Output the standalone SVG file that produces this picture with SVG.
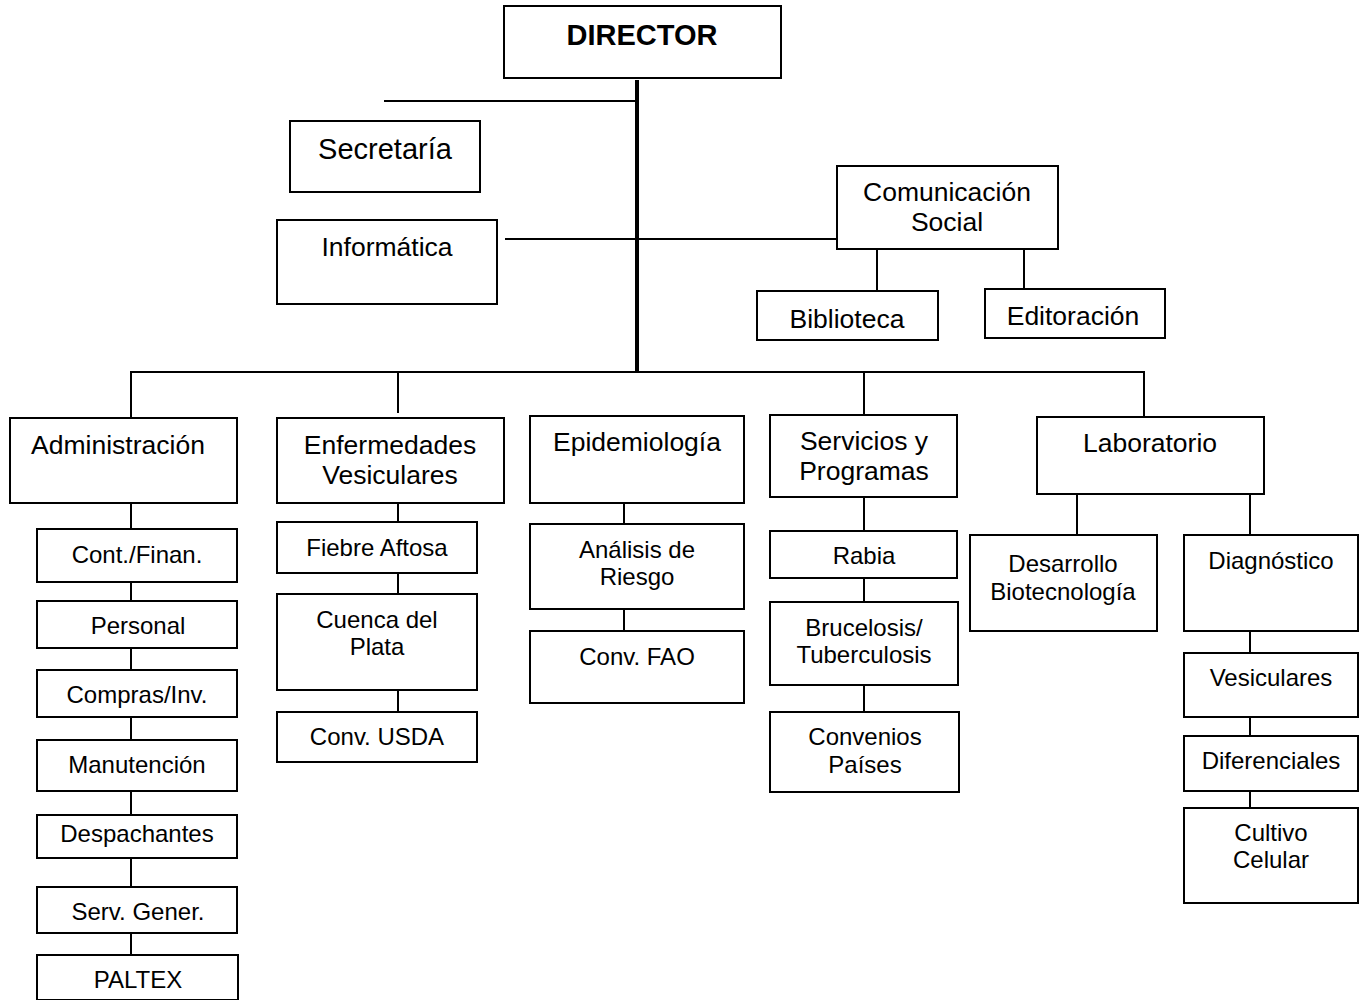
<svg xmlns="http://www.w3.org/2000/svg" width="1364" height="1000" viewBox="0 0 1364 1000">
<style>
rect{fill:#fff;stroke:#000;stroke-width:2}
text{font-family:"Liberation Sans",Arial,sans-serif;fill:#000;text-anchor:middle}
.l{font-size:26.5px}
.s{font-size:24px}
.c line{stroke:#000;stroke-width:2}
</style>
<rect x="0" y="0" width="1364" height="1000" style="fill:#fff;stroke:none"/>
<g class="c" id="connectors">
<line x1="637" y1="80" x2="637" y2="373" style="stroke-width:4"/>
<line x1="384" y1="101" x2="637" y2="101"/>
<line x1="505" y1="239" x2="837" y2="239"/>
<line x1="877" y1="249" x2="877" y2="291"/>
<line x1="1024" y1="249" x2="1024" y2="289"/>
<line x1="130" y1="372" x2="1145" y2="372"/>
<line x1="131" y1="372" x2="131" y2="418"/>
<line x1="398" y1="373" x2="398" y2="413"/>
<line x1="864" y1="373" x2="864" y2="415"/>
<line x1="1144" y1="372" x2="1144" y2="417"/>
<line x1="131" y1="503" x2="131" y2="955"/>
<line x1="398" y1="503" x2="398" y2="712"/>
<line x1="624" y1="503" x2="624" y2="631"/>
<line x1="864" y1="497" x2="864" y2="712"/>
<line x1="1077" y1="494" x2="1077" y2="535"/>
<line x1="1250" y1="494" x2="1250" y2="535"/>
<line x1="1250" y1="631" x2="1250" y2="808"/>
</g>
<g id="director"><rect x="504" y="6" width="277" height="72"/><text x="642" y="45" style="font-size:29px;font-weight:bold">DIRECTOR</text></g>
<g id="secretaria"><rect x="290" y="121" width="190" height="71"/><text x="385" y="159" style="font-size:29px">Secretaría</text></g>
<g id="informatica"><rect x="277" y="220" width="220" height="84"/><text class="l" x="387" y="256">Informática</text></g>
<g id="comunicacion"><rect x="837" y="166" width="221" height="83"/><text class="l" x="947" y="201">Comunicación</text><text class="l" x="947" y="231">Social</text></g>
<g id="biblioteca"><rect x="757" y="291" width="181" height="49"/><text class="l" x="847" y="328">Biblioteca</text></g>
<g id="editoracion"><rect x="985" y="289" width="180" height="49"/><text class="l" x="1073" y="325">Editoración</text></g>
<g id="administracion"><rect x="10" y="418" width="227" height="85"/><text class="l" x="118" y="454">Administración</text></g>
<g id="enfermedades"><rect x="277" y="418" width="227" height="85"/><text class="l" x="390" y="454">Enfermedades</text><text class="l" x="390" y="484">Vesiculares</text></g>
<g id="epidemiologia"><rect x="530" y="416" width="214" height="87"/><text class="l" x="637" y="451">Epidemiología</text></g>
<g id="servicios"><rect x="770" y="415" width="187" height="82"/><text class="l" x="864" y="450">Servicios y</text><text class="l" x="864" y="480">Programas</text></g>
<g id="laboratorio"><rect x="1037" y="417" width="227" height="77"/><text class="l" x="1150" y="452">Laboratorio</text></g>
<g id="contfinan"><rect x="37" y="529" width="200" height="53"/><text class="s" x="137" y="563">Cont./Finan.</text></g>
<g id="personal"><rect x="37" y="601" width="200" height="47"/><text class="s" x="138" y="634">Personal</text></g>
<g id="compras"><rect x="37" y="670" width="200" height="47"/><text class="s" x="137" y="703">Compras/Inv.</text></g>
<g id="manutencion"><rect x="37" y="740" width="200" height="51"/><text class="s" x="137" y="773">Manutención</text></g>
<g id="despachantes"><rect x="37" y="815" width="200" height="43"/><text class="s" x="137" y="842">Despachantes</text></g>
<g id="servgener"><rect x="37" y="887" width="200" height="46"/><text class="s" x="138" y="920">Serv. Gener.</text></g>
<g id="paltex"><rect x="37" y="955" width="201" height="45"/><text class="s" x="138" y="988">PALTEX</text></g>
<g id="fiebre"><rect x="277" y="522" width="200" height="51"/><text class="s" x="377" y="556">Fiebre Aftosa</text></g>
<g id="cuenca"><rect x="277" y="594" width="200" height="96"/><text class="s" x="377" y="628">Cuenca del</text><text class="s" x="377" y="655">Plata</text></g>
<g id="usda"><rect x="277" y="712" width="200" height="50"/><text class="s" x="377" y="745">Conv. USDA</text></g>
<g id="analisis"><rect x="530" y="524" width="214" height="85"/><text class="s" x="637" y="558">Análisis de</text><text class="s" x="637" y="585">Riesgo</text></g>
<g id="fao"><rect x="530" y="631" width="214" height="72"/><text class="s" x="637" y="665">Conv. FAO</text></g>
<g id="rabia"><rect x="770" y="531" width="187" height="47"/><text class="s" x="864" y="564">Rabia</text></g>
<g id="brucelosis"><rect x="770" y="602" width="188" height="83"/><text class="s" x="864" y="636">Brucelosis/</text><text class="s" x="864" y="663">Tuberculosis</text></g>
<g id="convenios"><rect x="770" y="712" width="189" height="80"/><text class="s" x="865" y="745">Convenios</text><text class="s" x="865" y="773">Países</text></g>
<g id="desarrollo"><rect x="970" y="535" width="187" height="96"/><text class="s" x="1063" y="572">Desarrollo</text><text class="s" x="1063" y="600">Biotecnología</text></g>
<g id="diagnostico"><rect x="1184" y="535" width="174" height="96"/><text class="s" x="1271" y="569">Diagnóstico</text></g>
<g id="vesiculares"><rect x="1184" y="653" width="174" height="64"/><text class="s" x="1271" y="686">Vesiculares</text></g>
<g id="diferenciales"><rect x="1184" y="736" width="174" height="55"/><text class="s" x="1271" y="769">Diferenciales</text></g>
<g id="cultivo"><rect x="1184" y="808" width="174" height="95"/><text class="s" x="1271" y="841">Cultivo</text><text class="s" x="1271" y="868">Celular</text></g>
</svg>
